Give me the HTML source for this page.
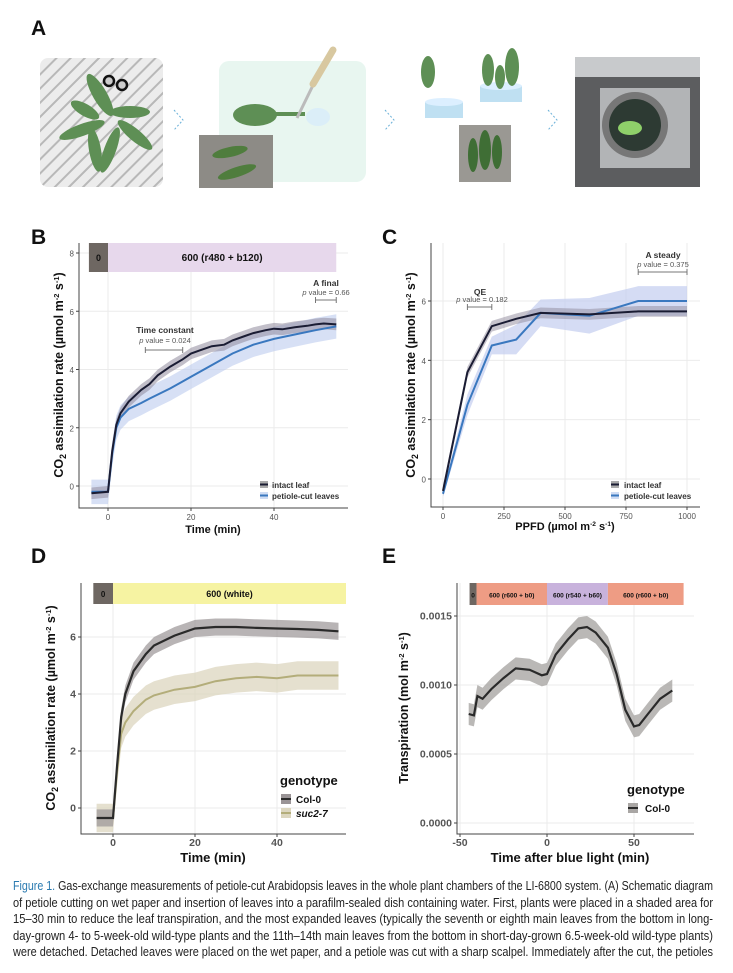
<!DOCTYPE html>
<html><head><meta charset="utf-8">
<style>
body{margin:0;background:#fff;width:733px;height:973px;overflow:hidden;font-family:"Liberation Sans",sans-serif}
#fig{position:absolute;left:0;top:0}
#cap{position:absolute;left:13px;top:878px;width:700px;font-family:"Liberation Sans",sans-serif;font-size:12.5px;line-height:16.6px;color:#222}
#cap .ln{white-space:nowrap;transform-origin:0 0;display:block;width:max-content}
#cap .fl{color:#2a7ab0}
</style></head><body>
<svg id="fig" width="733" height="880" viewBox="0 0 733 880">
<defs>
<pattern id="hatch" width="10" height="10" patternUnits="userSpaceOnUse" patternTransform="rotate(-45)"><rect width="10" height="10" fill="#ececec"/><rect width="10" height="2" fill="#b8b8b8"/></pattern>
</defs>
<g>
<text x="31" y="35" font-size="21" font-weight="bold" fill="#111">A</text>
<rect x="40" y="58" width="123" height="129" rx="8" fill="url(#hatch)"/>
<g fill="#5e8f55">
<ellipse cx="100" cy="95" rx="7" ry="24" transform="rotate(-30 100 95)"/>
<ellipse cx="82" cy="130" rx="24" ry="6" transform="rotate(-20 82 130)"/>
<ellipse cx="130" cy="112" rx="20" ry="6"/>
<ellipse cx="110" cy="150" rx="6" ry="24" transform="rotate(20 110 150)"/>
<ellipse cx="95" cy="150" rx="6" ry="22" transform="rotate(-10 95 150)"/>
<ellipse cx="135" cy="135" rx="22" ry="6" transform="rotate(40 135 135)"/>
<ellipse cx="85" cy="110" rx="16" ry="6" transform="rotate(30 85 110)"/>
</g>
<circle cx="109" cy="81" r="5" fill="#ccc" stroke="#111" stroke-width="2.5"/>
<circle cx="122" cy="85" r="5" fill="#ccc" stroke="#111" stroke-width="2.5"/>
<path d="M174 110 L183 120 L174 130" fill="none" stroke="#6ab0d8" stroke-dasharray="2 2"/>
<rect x="219" y="61" width="147" height="121" rx="10" fill="#e8f6f0"/>
<ellipse cx="255" cy="115" rx="22" ry="11" fill="#5e8f55"/>
<rect x="275" y="112" width="30" height="4" fill="#5e8f55"/>
<ellipse cx="318" cy="117" rx="12" ry="9" fill="#dbeef8"/>
<path d="M297 118 L318 75" stroke="#bbb" stroke-width="3"/>
<path d="M313 84 L333 50" stroke="#d8c8a0" stroke-width="7" stroke-linecap="round"/>
<rect x="199" y="135" width="74" height="53" fill="#8d8b86"/>
<ellipse cx="230" cy="152" rx="18" ry="5" fill="#4f7d3d" transform="rotate(-12 230 152)"/>
<ellipse cx="237" cy="172" rx="20" ry="5" fill="#4f7d3d" transform="rotate(-18 237 172)"/>
<path d="M385 110 L394 120 L385 130" fill="none" stroke="#6ab0d8" stroke-dasharray="2 2"/>
<ellipse cx="428" cy="72" rx="7" ry="16" fill="#5e8f55"/>
<rect x="425" y="102" width="38" height="16" fill="#bfe0f2"/><ellipse cx="444" cy="102" rx="19" ry="4" fill="#dcefff"/>
<rect x="480" y="86" width="42" height="16" fill="#bfe0f2"/><ellipse cx="501" cy="86" rx="21" ry="4" fill="#dcefff"/>
<ellipse cx="488" cy="70" rx="6" ry="16" fill="#5e8f55"/><ellipse cx="500" cy="77" rx="5" ry="12" fill="#5e8f55"/><ellipse cx="512" cy="67" rx="7" ry="19" fill="#5e8f55"/>
<rect x="459" y="125" width="52" height="57" fill="#9a9893"/>
<ellipse cx="473" cy="155" rx="5" ry="17" fill="#3f6e35"/><ellipse cx="485" cy="150" rx="6" ry="20" fill="#3f6e35"/><ellipse cx="497" cy="152" rx="5" ry="17" fill="#3f6e35"/>
<path d="M548 110 L557 120 L548 130" fill="none" stroke="#6ab0d8" stroke-dasharray="2 2"/>
<rect x="575" y="57" width="125" height="130" fill="#5c5d5f"/>
<rect x="575" y="57" width="125" height="20" fill="#c8cacc"/>
<rect x="600" y="88" width="90" height="80" fill="#b2b4b6"/>
<circle cx="635" cy="125" r="33" fill="#777"/><circle cx="635" cy="125" r="26" fill="#2d3a33"/>
<ellipse cx="630" cy="128" rx="12" ry="7" fill="#8fd06a"/>
</g>
</svg>
<div id="cap">
<span class="ln"><span class="fl">Figure 1.</span> Gas-exchange measurements of petiole-cut Arabidopsis leaves in the whole plant chambers of the LI-6800 system. (A) Schematic diagram</span>
<span class="ln">of petiole cutting on wet paper and insertion of leaves into a parafilm-sealed dish containing water. First, plants were placed in a shaded area for</span>
<span class="ln">15–30 min to reduce the leaf transpiration, and the most expanded leaves (typically the seventh or eighth main leaves from the bottom in long-</span>
<span class="ln">day-grown 4- to 5-week-old wild-type plants and the 11th–14th main leaves from the bottom in short-day-grown 6.5-week-old wild-type plants)</span>
<span class="ln">were detached. Detached leaves were placed on the wet paper, and a petiole was cut with a sharp scalpel. Immediately after the cut, the petioles</span>
</div>
<script>
// Panel B data
const bTimeIntact=[-4,0,1,2,3,5,8,10,12,15,18,20,22,25,28,30,33,35,38,40,42,45,48,50,52,55];
const bIntact=[-0.25,-0.2,1.2,2.1,2.5,2.9,3.3,3.5,3.8,4.1,4.35,4.55,4.65,4.8,4.85,5.0,5.15,5.25,5.35,5.4,5.38,5.45,5.5,5.55,5.58,5.55];
const bTimeCut=[-4,0,1,2,3,5,8,10,15,20,25,30,35,40,45,50,55];
const bCut=[-0.2,-0.2,1.1,2.0,2.35,2.65,2.85,3.0,3.35,3.75,4.15,4.55,4.85,5.05,5.2,5.35,5.48];
const bXTicks=[0,20,40]; const bYTicks=[0,2,4,6,8];
// Panel C data
const cPPFD=[0,100,200,300,400,600,800,1000];
const cIntact=[-0.4,3.6,5.15,5.4,5.6,5.55,5.65,5.65];
const cCut=[-0.5,2.5,4.5,4.7,5.6,5.5,6.0,6.0];
const cXTicks=[0,250,500,750,1000]; const cYTicks=[0,2,4,6];
// Panel D data
const dTime=[-4,0,1,2,3,5,8,10,15,20,25,30,35,40,45,50,55];
const dCol=[-0.35,-0.35,1.5,3.2,4.0,4.8,5.4,5.7,6.05,6.3,6.35,6.35,6.32,6.3,6.28,6.25,6.2];
const dSuc=[-0.35,-0.35,1.3,2.6,3.0,3.4,3.8,3.95,4.15,4.25,4.45,4.55,4.6,4.55,4.65,4.65,4.65];
const dXTicks=[0,20,40]; const dYTicks=[0,2,4,6];
// Panel E data
const eTime=[-45,-42,-40,-37,-32,-25,-18,-10,-3,0,5,12,18,23,28,35,40,45,50,53,58,65,72];
const eCol=[0.00079,0.00078,0.00092,0.0009,0.00097,0.00105,0.00112,0.00111,0.00107,0.00108,0.00122,0.00133,0.00141,0.00142,0.00138,0.00127,0.00108,0.00082,0.0007,0.00071,0.00079,0.0009,0.00096];
const eXTicks=[-50,0,50]; const eYTicks=[0,0.0005,0.001,0.0015];
const eYLabels=["0.0000","0.0005","0.0010","0.0015"];

const NS="http://www.w3.org/2000/svg";
const svg=document.getElementById('fig');
function el(tag,attrs,parent,txt){const e=document.createElementNS(NS,tag);for(const k in attrs)e.setAttribute(k,attrs[k]);if(txt!=null)e.textContent=txt;(parent||svg).appendChild(e);return e;}
function lin(d0,d1,r0,r1){return v=>r0+(v-d0)*(r1-r0)/(d1-d0);}
function path(xs,ys,sx,sy){return xs.map((x,i)=>(i?'L':'M')+sx(x).toFixed(1)+' '+sy(ys[i]).toFixed(1)).join(' ');}
function band(xs,ys,sx,sy,w){let up=xs.map((x,i)=>sx(x).toFixed(1)+' '+sy(ys[i]+w).toFixed(1));let dn=xs.map((x,i)=>sx(x).toFixed(1)+' '+sy(ys[i]-w).toFixed(1)).reverse();return 'M'+up.join(' L')+' L'+dn.join(' L')+'Z';}

function axes(g,p){
  const {sx,sy,L,R,T,B,xt,yt}=p;
  xt.forEach(v=>{const l=el('line',{x1:sx(v),x2:sx(v),y1:T,y2:B,stroke:'#ebebeb','stroke-width':1},g);});
  yt.forEach(v=>{const l=el('line',{x1:L,x2:R,y1:sy(v),y2:sy(v),stroke:'#ebebeb','stroke-width':1},g);});
}
function axesFront(g,p){
  const {sx,sy,L,R,T,B,xt,yt,yl,fs,fw}=p;
  const ax=el('path',{d:`M${L} ${T} L${L} ${B} L${R} ${B}`,fill:'none',stroke:'#444','stroke-width':1},g);
  
  xt.forEach(v=>{el('line',{x1:sx(v),x2:sx(v),y1:B,y2:B+3,stroke:'#444'},g);const t=el('text',{x:sx(v),y:B+12,'text-anchor':'middle','font-size':fs||9,'font-weight':fw||'normal',fill:'#555'},g,String(v));});
  yt.forEach((v,i)=>{el('line',{x1:L-3,x2:L,y1:sy(v),y2:sy(v),stroke:'#444'},g);const t=el('text',{x:L-5,y:sy(v)+3.5,'text-anchor':'end','font-size':fs||9,'font-weight':fw||'normal',fill:'#555'},g,yl?yl[i]:String(v));});
}
function ylab(g,x,y,txt,fs,name){const t=el('text',{x:x,y:y,'text-anchor':'middle','font-size':fs,'font-weight':'bold',fill:'#111',transform:`rotate(-90 ${x} ${y})`},g);t.innerHTML=txt;return t;}
function txt(g,x,y,s,attrs,name){const t=el('text',Object.assign({x:x,y:y,fill:'#111'},attrs),g);t.innerHTML=s;return t;}
function seg(g,x0,x1,y0,y1,col,label,fs,name){const r=el('rect',{x:x0,y:y0,width:x1-x0,height:y1-y0,fill:col},g);if(label!=null){txt(g,(x0+x1)/2,(y0+y1)/2+3.5,label,{'text-anchor':'middle','font-size':fs,'font-weight':'bold'},name+'-label');}}
const CO2='CO<tspan dy="3" font-size="0.7em">2</tspan><tspan dy="-3"> assimilation rate (µmol m</tspan><tspan dy="-4" font-size="0.6em">-2</tspan><tspan dy="4"> s</tspan><tspan dy="-4" font-size="0.6em">-1</tspan><tspan dy="4">)</tspan>';

// ---------- Panel B ----------
{const g=el('g',{});
 const p={L:79,R:348,T:243,B:508,sx:lin(0,40,108,274),sy:lin(0,8,486,253),xt:bXTicks,yt:bYTicks,fs:8};
 txt(g,31,244,'B',{'font-size':21,'font-weight':'bold'},'panel-b-label');
 axes(g,p);
 seg(g,p.sx(-4.6),p.sx(0),243,272,'#6e6762','0',9,'light-bar-dark');
 seg(g,p.sx(0),p.sx(55),243,272,'#e7d8ec','600 (r480 + b120)',10,'light-bar-r480-b120');
 const b1=el('path',{d:band(bTimeCut,bCut,p.sx,p.sy,0.42),fill:'#bccbef',opacity:0.6},g);
 const b2=el('path',{d:band(bTimeIntact,bIntact,p.sx,p.sy,0.2),fill:'#8f8a9c',opacity:0.55},g);
 const l1=el('path',{d:path(bTimeCut,bCut,p.sx,p.sy),fill:'none',stroke:'#3a78bf','stroke-width':2},g);
 const l2=el('path',{d:path(bTimeIntact,bIntact,p.sx,p.sy),fill:'none',stroke:'#1a1c33','stroke-width':2},g);
 axesFront(g,p);
 txt(g,213,533,'Time (min)',{'text-anchor':'middle','font-size':11,'font-weight':'bold'},'x-axis-title');
 ylab(g,63,375,CO2,12.5,'y-axis-title');
 txt(g,165,333,'Time constant',{'text-anchor':'middle','font-size':8.5,'font-weight':'bold','fill':'#333'},'time-constant-label');
 txt(g,165,343,'<tspan font-style="italic">p</tspan> value = 0.024',{'text-anchor':'middle','font-size':7.5,fill:'#555'},'time-constant-p');
 el('path',{d:`M${p.sx(9)} 350 L${p.sx(18)} 350 M${p.sx(9)} 347 L${p.sx(9)} 353 M${p.sx(18)} 347 L${p.sx(18)} 353`,stroke:'#777',fill:'none'},g);
 txt(g,326,286,'A final',{'text-anchor':'middle','font-size':8.5,'font-weight':'bold',fill:'#333'},'a-final-label');
 txt(g,326,295,'<tspan font-style="italic">p</tspan> value = 0.66',{'text-anchor':'middle','font-size':7.5,fill:'#555'},'a-final-p');
 el('path',{d:`M${p.sx(50)} 300 L${p.sx(55)} 300 M${p.sx(50)} 297 L${p.sx(50)} 303 M${p.sx(55)} 297 L${p.sx(55)} 303`,stroke:'#777',fill:'none'},g);
 el('rect',{x:260,y:481,width:8,height:7,fill:'#aaa'},g);el('line',{x1:260,x2:268,y1:484.5,y2:484.5,stroke:'#1a1c33','stroke-width':2},g);
 txt(g,272,488,'intact leaf',{'font-size':8,'font-weight':'bold',fill:'#333'},'legend-intact-leaf');
 el('rect',{x:260,y:492,width:8,height:7,fill:'#cfdcf3'},g);el('line',{x1:260,x2:268,y1:495.5,y2:495.5,stroke:'#3a78bf','stroke-width':2},g);
 txt(g,272,499,'petiole-cut leaves',{'font-size':8,'font-weight':'bold',fill:'#333'},'legend-petiole-cut');
}
// ---------- Panel C ----------
{const g=el('g',{});
 const p={L:431,R:700,T:243,B:507,sx:lin(0,1000,443,687),sy:lin(0,6,479,301),xt:cXTicks,yt:cYTicks,fs:8};
 txt(g,382,244,'C',{'font-size':21,'font-weight':'bold'},'panel-c-label');
 axes(g,p);
 const bw=[0.1,0.35,0.3,0.5,0.45,0.6,0.5,0.5];
 const up=cPPFD.map((x,i)=>p.sx(x)+' '+p.sy(cCut[i]+bw[i])).join(' L');const dn=cPPFD.map((x,i)=>p.sx(x)+' '+p.sy(cCut[i]-bw[i])).reverse().join(' L');
 const b1=el('path',{d:'M'+up+' L'+dn+'Z',fill:'#c3cdef',opacity:0.7},g);
 const b2=el('path',{d:band(cPPFD,cIntact,p.sx,p.sy,0.18),fill:'#8f8a9c',opacity:0.5},g);
 const l1=el('path',{d:path(cPPFD,cCut,p.sx,p.sy),fill:'none',stroke:'#3a78bf','stroke-width':2},g);
 const l2=el('path',{d:path(cPPFD,cIntact,p.sx,p.sy),fill:'none',stroke:'#1a1c33','stroke-width':2},g);
 axesFront(g,p);
 txt(g,565,530,'PPFD (µmol m<tspan dy="-4" font-size="0.6em">-2</tspan><tspan dy="4"> s</tspan><tspan dy="-4" font-size="0.6em">-1</tspan><tspan dy="4">)</tspan>',{'text-anchor':'middle','font-size':11,'font-weight':'bold'},'x-axis-title');
 ylab(g,415,375,CO2,12.5,'y-axis-title');
 txt(g,480,295,'QE',{'text-anchor':'middle','font-size':8.5,'font-weight':'bold',fill:'#333'},'qe-label');
 txt(g,482,302,'<tspan font-style="italic">p</tspan> value = 0.182',{'text-anchor':'middle','font-size':7.5,fill:'#555'},'qe-p');
 el('path',{d:`M${p.sx(100)} 307 L${p.sx(200)} 307 M${p.sx(100)} 304 L${p.sx(100)} 310 M${p.sx(200)} 304 L${p.sx(200)} 310`,stroke:'#777',fill:'none'},g);
 txt(g,663,258,'A steady',{'text-anchor':'middle','font-size':8.5,'font-weight':'bold',fill:'#333'},'a-steady-label');
 txt(g,663,267,'<tspan font-style="italic">p</tspan> value = 0.375',{'text-anchor':'middle','font-size':7.5,fill:'#555'},'a-steady-p');
 el('path',{d:`M${p.sx(800)} 272 L${p.sx(1000)} 272 M${p.sx(800)} 269 L${p.sx(800)} 275 M${p.sx(1000)} 269 L${p.sx(1000)} 275`,stroke:'#777',fill:'none'},g);
 el('rect',{x:611,y:481,width:8,height:7,fill:'#aaa'},g);el('line',{x1:611,x2:619,y1:484.5,y2:484.5,stroke:'#1a1c33','stroke-width':2},g);
 txt(g,624,488,'intact leaf',{'font-size':8,'font-weight':'bold',fill:'#333'},'legend-intact-leaf');
 el('rect',{x:611,y:492,width:8,height:7,fill:'#cfdcf3'},g);el('line',{x1:611,x2:619,y1:495.5,y2:495.5,stroke:'#3a78bf','stroke-width':2},g);
 txt(g,624,499,'petiole-cut leaves',{'font-size':8,'font-weight':'bold',fill:'#333'},'legend-petiole-cut');
}
// ---------- Panel D ----------
{const g=el('g',{});
 const p={L:81,R:346,T:583,B:834,sx:lin(0,40,113,277),sy:lin(0,6,808,637),xt:dXTicks,yt:dYTicks,fs:10.5,fw:'bold'};
 txt(g,31,563,'D',{'font-size':21,'font-weight':'bold'},'panel-d-label');
 axes(g,p);
 seg(g,p.sx(-4.8),p.sx(0),583,604,'#6e6762','0',8,'light-bar-dark');
 seg(g,p.sx(0),346,583,604,'#f6f3a2','600 (white)',9,'light-bar-white');
 const b1=el('path',{d:band(dTime,dSuc,p.sx,p.sy,0.5),fill:'#dcd6bf',opacity:0.75},g);
 const b2=el('path',{d:band(dTime,dCol,p.sx,p.sy,0.3),fill:'#9a9496',opacity:0.7},g);
 const l1=el('path',{d:path(dTime,dSuc,p.sx,p.sy),fill:'none',stroke:'#b3ad7a','stroke-width':2},g);
 const l2=el('path',{d:path(dTime,dCol,p.sx,p.sy),fill:'none',stroke:'#2a2a2a','stroke-width':2.2},g);
 axesFront(g,p);
 txt(g,213,862,'Time (min)',{'text-anchor':'middle','font-size':13,'font-weight':'bold'},'x-axis-title');
 ylab(g,55,708,CO2.replace(/ /g,'  '),12.5,'y-axis-title');
 txt(g,280,785,'genotype',{'font-size':13,'font-weight':'bold'},'legend-title');
 el('rect',{x:281,y:794,width:10,height:10,fill:'#9a9496'},g);el('line',{x1:281,x2:291,y1:799,y2:799,stroke:'#2a2a2a','stroke-width':2},g);
 txt(g,296,803,'Col-0',{'font-size':10,'font-weight':'bold'},'legend-col-0');
 el('rect',{x:281,y:808,width:10,height:10,fill:'#dcd6bf'},g);el('line',{x1:281,x2:291,y1:813,y2:813,stroke:'#b3ad7a','stroke-width':2},g);
 txt(g,296,817,'suc2-7',{'font-size':10,'font-weight':'bold','font-style':'italic'},'legend-suc2-7');
}
// ---------- Panel E ----------
{const g=el('g',{});
 const p={L:457,R:694,T:583,B:834,sx:lin(-50,50,460,634),sy:lin(0,0.0015,823,616),xt:eXTicks,yt:eYTicks,yl:eYLabels,fs:10.5,fw:'bold'};
 txt(g,382,563,'E',{'font-size':21,'font-weight':'bold'},'panel-e-label');
 axes(g,p);
 seg(g,p.sx(-44.5),p.sx(-40.5),583,605,'#6e6762','0',6.5,'light-bar-dark');
 seg(g,p.sx(-40.5),p.sx(0),583,605,'#ee9c84','600 (r600 + b0)',6.5,'light-bar-red-1');
 seg(g,p.sx(0),p.sx(35),583,605,'#c8b2dc','600 (r540 + b60)',6.5,'light-bar-blue');
 seg(g,p.sx(35),p.sx(78.5),583,605,'#ee9c84','600 (r600 + b0)',6.5,'light-bar-red-2');
 const b1=el('path',{d:band(eTime,eCol,p.sx,p.sy,0.00008),fill:'#a9a6a4',opacity:0.8},g);
 const l1=el('path',{d:path(eTime,eCol,p.sx,p.sy),fill:'none',stroke:'#2a2a2a','stroke-width':2.2},g);
 axesFront(g,p);
 txt(g,570,862,'Time after blue light (min)',{'text-anchor':'middle','font-size':13,'font-weight':'bold'},'x-axis-title');
 ylab(g,408,708,'Transpiration  (mol  m<tspan dy="-4" font-size="0.6em">-2</tspan><tspan dy="4">  s</tspan><tspan dy="-4" font-size="0.6em">-1</tspan><tspan dy="4">)</tspan>',12.5,'y-axis-title');
 txt(g,627,794,'genotype',{'font-size':13,'font-weight':'bold'},'legend-title');
 el('rect',{x:628,y:803,width:10,height:10,fill:'#a9a6a4'},g);el('line',{x1:628,x2:638,y1:808,y2:808,stroke:'#2a2a2a','stroke-width':2},g);
 txt(g,645,812,'Col-0',{'font-size':10,'font-weight':'bold'},'legend-col-0');
}
// fit caption lines to width
document.querySelectorAll('#cap .ln').forEach(l=>{const w=l.getBoundingClientRect().width;l.style.transform='scaleX('+(700/w)+')';});
</script>
</body></html>
